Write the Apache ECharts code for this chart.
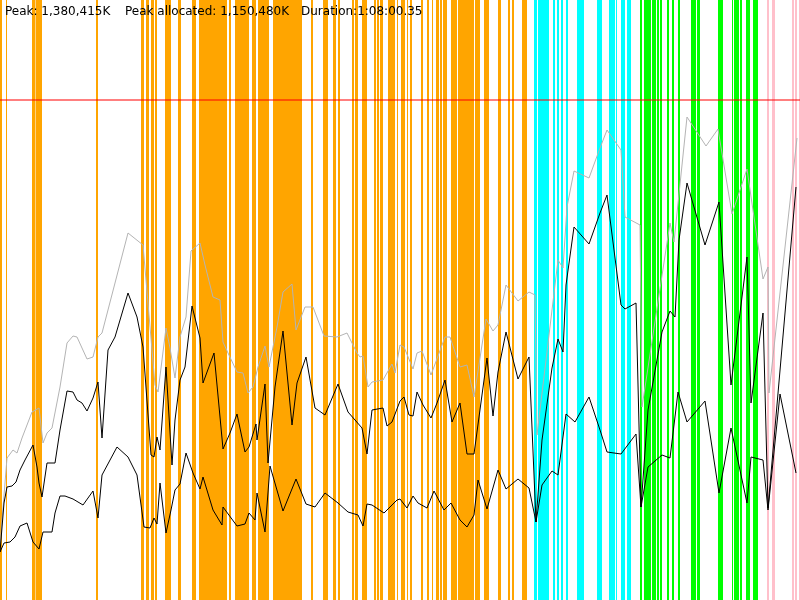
<!DOCTYPE html>
<html>
<head>
<meta charset="utf-8">
<script src="https://cdn.jsdelivr.net/npm/echarts@6/dist/echarts.min.js"></script>
<style>
  html, body { margin: 0; padding: 0; background: #fff; }
  #root { width: 800px; height: 600px; }
</style>
</head>
<body>
<div id="root"></div>
<script>
// heap timeline: x = time units (0..800), y = memory units (0..600)
const X_MAX = 800;
const Y_MAX = 600;
const HEAP_LIMIT = 500;

const summaryLabels = ['Peak: 1,380,415K', 'Peak allocated: 1,150,480K', 'Duration:1:08:00.35'];

// collection events [start, end]
const orangeEvents = [
  [0, 2], [6, 7], [32, 35], [35.5, 42], [96, 98],
  [141, 144], [146, 149], [151, 154], [155, 157], [165, 171], [178, 181], [192, 196],
  [199, 227], [229, 231], [235, 249], [252, 256], [258, 269], [273, 302], [311, 313],
  [323, 328], [333, 336], [338, 340], [352, 354], [355, 358], [362, 367], [374, 376],
  [377, 379], [380, 383], [388, 395], [397, 398], [401, 405], [407, 408], [410, 412],
  [421, 423], [427, 429], [432, 433], [436, 439], [440, 442], [443, 447], [451, 457],
  [458, 459], [459, 474], [475, 480], [484, 489], [498, 501], [508, 510], [512, 514], [522, 527]
];
const cyanEvents = [
  [534, 537], [538, 549], [553, 555], [557, 559], [561, 563], [566, 568], [577, 584],
  [597, 602], [609, 615], [616, 617], [621, 625], [627, 631]
];
const greenEvents = [
  [640, 642], [644, 651], [652, 656], [657, 659], [660, 662], [667, 669], [672, 674],
  [678, 680], [691, 696], [697, 700], [718, 723], [732, 733], [734, 739], [740, 742],
  [746, 750], [753, 758]
];
const pinkEvents = [[767, 769], [772, 775], [792, 794], [795, 797], [799, 800]];

// [time, memory]
const heapSize = [
  [0, 55], [7, 142], [13, 150], [17, 147], [22, 162], [32, 188], [39, 192], [43, 157],
  [47, 167], [52, 172], [60, 213], [67, 257], [73, 264], [77, 263], [87, 241], [93, 243],
  [98, 263], [102, 267], [128, 367], [143, 355], [155, 215], [158, 208], [166, 272],
  [170, 252], [175, 222], [180, 263], [186, 283], [191, 349], [200, 357], [205, 335],
  [213, 303], [220, 300], [223, 258], [228, 247], [237, 228], [243, 227], [248, 207],
  [253, 213], [258, 233], [265, 254], [267, 253], [269, 233], [277, 273], [283, 308],
  [292, 316], [296, 270], [305, 293], [313, 293], [324, 264], [337, 263], [347, 267],
  [357, 247], [360, 243], [363, 244], [368, 213], [372, 218], [383, 220], [392, 236],
  [395, 227], [400, 255], [404, 253], [413, 231], [417, 247], [422, 249], [431, 225],
  [433, 224], [445, 263], [450, 263], [460, 233], [467, 235], [474, 203], [486, 281],
  [493, 269], [498, 275], [506, 315], [518, 299], [529, 308], [535, 305], [537, 165],
  [558, 340], [563, 332], [567, 393], [574, 429], [589, 422], [600, 452], [607, 470],
  [621, 450], [625, 383], [640, 375], [642, 193], [670, 377], [674, 358], [687, 483],
  [706, 454], [718, 471], [732, 386], [747, 431], [763, 321], [768, 333], [769, 207],
  [797, 462]
];
const usedBefore = [
  [0, 48], [4, 97], [7, 113], [12, 114], [16, 118], [20, 130], [25, 140], [33, 155],
  [37, 133], [39, 117], [42, 103], [47, 137], [55, 137], [60, 170], [67, 209], [73, 208],
  [77, 200], [82, 197], [87, 189], [93, 202], [98, 218], [102, 162], [108, 250], [115, 263],
  [128, 307], [137, 283], [143, 253], [151, 145], [154, 143], [157, 163], [160, 150],
  [166, 233], [172, 135], [175, 180], [180, 220], [185, 233], [192, 294], [200, 262],
  [203, 217], [214, 247], [223, 151], [230, 167], [237, 186], [245, 148], [249, 153],
  [256, 176], [257, 160], [265, 216], [268, 137], [275, 213], [283, 269], [292, 175],
  [297, 217], [306, 243], [315, 192], [325, 185], [338, 216], [348, 188], [362, 172],
  [367, 146], [372, 190], [383, 192], [387, 174], [392, 178], [400, 199], [404, 203],
  [409, 185], [413, 184], [417, 208], [423, 195], [431, 182], [437, 197], [445, 220],
  [452, 178], [460, 197], [467, 146], [474, 146], [487, 242], [493, 184], [498, 228],
  [506, 268], [518, 221], [529, 243], [536, 78], [542, 160], [552, 232], [558, 261],
  [563, 248], [566, 315], [574, 373], [589, 356], [600, 387], [607, 405], [621, 295],
  [625, 291], [636, 297], [641, 93], [648, 190], [662, 268], [670, 289], [675, 283],
  [679, 360], [687, 417], [705, 355], [719, 398], [731, 215], [747, 343], [751, 197],
  [763, 287], [768, 92], [796, 413]
];
const usedAfter = [
  [0, 48], [4, 57], [10, 58], [15, 63], [20, 74], [27, 77], [33, 58], [39, 51], [43, 68],
  [52, 68], [55, 87], [60, 104], [65, 104], [73, 101], [83, 95], [93, 109], [98, 82],
  [102, 125], [117, 153], [128, 143], [137, 125], [144, 73], [150, 72], [154, 82],
  [157, 76], [160, 117], [166, 67], [171, 90], [175, 110], [180, 116], [186, 147],
  [193, 127], [200, 111], [203, 123], [213, 90], [222, 75], [223, 93], [237, 74],
  [245, 76], [249, 87], [255, 80], [257, 107], [265, 68], [270, 134], [283, 89],
  [296, 121], [306, 96], [315, 93], [325, 107], [338, 97], [348, 88], [358, 85],
  [363, 74], [367, 96], [372, 95], [384, 87], [397, 100], [400, 101], [407, 92],
  [413, 104], [418, 97], [427, 92], [434, 109], [444, 90], [451, 97], [460, 80],
  [467, 73], [474, 85], [478, 120], [487, 91], [498, 130], [506, 111], [518, 121],
  [529, 112], [536, 78], [542, 115], [552, 129], [558, 125], [566, 186], [575, 178],
  [589, 203], [600, 170], [607, 148], [621, 146], [636, 166], [641, 93], [648, 133],
  [662, 145], [670, 142], [678, 208], [687, 178], [705, 199], [719, 107], [731, 172],
  [747, 97], [751, 143], [763, 140], [768, 90], [780, 206], [796, 127]
];

const container = document.getElementById('root');
const myChart = echarts.init(container);

const renderSpan = (params, api) => {
  const top = api.coord([api.value(0), Y_MAX]);
  const bottom = api.coord([api.value(1), 0]);
  return {
    type: 'rect',
    shape: { x: top[0], y: top[1], width: Math.max(bottom[0] - top[0], 1), height: bottom[1] - top[1] },
    style: { fill: api.visual('color') }
  };
};

const spanSerie = (name, data, color) => ({
  name,
  type: 'custom',
  renderItem: renderSpan,
  encode: { x: [0, 1] },
  itemStyle: { color },
  silent: true,
  data
});

const lineSerie = (name, data, color) => ({
  name,
  type: 'line',
  symbol: 'none',
  smooth: false,
  lineStyle: { color, width: 1 },
  itemStyle: { color },
  silent: true,
  data
});

const labelX = [5, 125, 301];

const option = {
  backgroundColor: '#fff',
  animation: false,
  grid: { left: 0, right: 0, top: 0, bottom: 0 },
  xAxis: { type: 'value', min: 0, max: X_MAX, show: false },
  yAxis: { type: 'value', min: 0, max: Y_MAX, show: false },
  graphic: summaryLabels.map((text, i) => ({
    type: 'text',
    x: labelX[i],
    y: 6,
    z: 100,
    style: { text, font: '12px "DejaVu Sans"', fill: '#000', verticalAlign: 'top' }
  })),
  series: [
    spanSerie('orange', orangeEvents, '#ffa500'),
    spanSerie('cyan', cyanEvents, '#00ffff'),
    spanSerie('green', greenEvents, '#00ff00'),
    spanSerie('pink', pinkEvents, '#ffc0cb'),
    lineSerie('heap', heapSize, '#b4b4b4'),
    lineSerie('used before', usedBefore, '#000'),
    {
      ...lineSerie('used after', usedAfter, '#000'),
      markLine: {
        silent: true,
        symbol: 'none',
        label: { show: false },
        lineStyle: { color: 'rgba(255,0,0,0.5)', width: 2, type: 'solid' },
        data: [{ yAxis: HEAP_LIMIT }]
      }
    }
  ]
};

myChart.setOption(option);

window.onresize = () => myChart.resize();
</script>
</body>
</html>
